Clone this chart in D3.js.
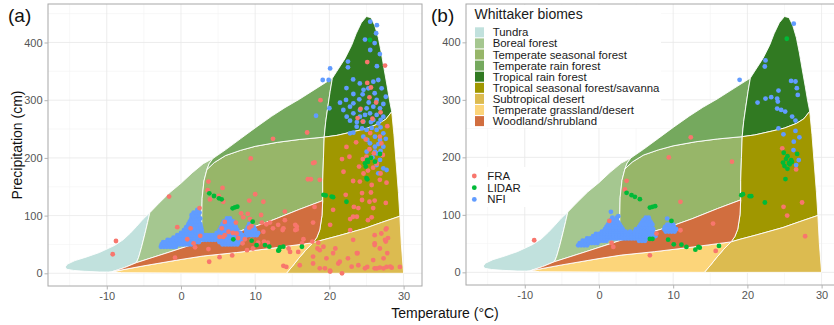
<!DOCTYPE html>
<html>
<head>
  <meta charset="utf-8">
  <style type="text/css">
    body { margin: 0; background: #fff; }
    svg { display: block; font-family: "Liberation Sans", Arial, sans-serif; }
    .grid .major { stroke: #e8e8e8; stroke-width: 0.8px; }
    .grid .minor { stroke: #f3f3f3; stroke-width: 0.6px; }
    .axis text { font-size: 11px; fill: #555; }
    .axis line { stroke: #b3b3b3; }
    .axis path { display: none; }
    .biome { stroke: #fff; stroke-width: 0.9px; stroke-linejoin: round; }
    .legend text { font-size: 11.4px; fill: #1a1a1a; }
  </style>
</head>
<body>
<script src="https://d3js.org/d3.v7.min.js"></script>
<script>
  // biome boundaries, [temperature (C), precipitation (cm)]
  var tundraTop = [[-15.6,11],[-15.3,16],[-14.3,22],[-12.8,28],[-11,36],[-9,48],[-7.8,58],[-6.8,70],[-6,81],[-5.1,94],[-4.2,105]];
  var tundraBottom = [[-15.6,11],[-15.4,7],[-14.5,5],[-13,3.5],[-11,2.3],[-9.8,2.2],[-9.2,3]];
  var tundraBoreal = [[-4.2,105],[-4.5,88],[-4.85,69],[-5.3,46],[-5.7,28],[-6.0,18.5]];
  var woodTopWest = [[-9.2,3],[-7.6,10],[-6.0,18.5]];
  var woodTopMid = [[-6.0,18.5],[-1.5,37],[3.0,56]];
  var woodTopEast = [[3.0,56],[6,66],[9.7,80],[12.5,93],[16,111],[19.1,126]];
  var borealTop = [[-4.2,105],[-3,121],[-1.5,140],[0,156],[1.5,174],[3,190],[4.3,199]];
  var borealTempSeas = [[3.5,180],[3.1,160],[2.85,130],[2.8,100],[2.8,75],[3.0,56]];
  var borealTempRain = [[3.5,180],[3.8,190],[4.3,199]];
  var tempSeasTop = [[3.5,180],[4.5,192],[6,204],[8,213],[10,220],[13,227],[16,232],[19.3,236]];
  var tempRainTop = [[4.3,199],[6,214],[8,233],[10,252],[12.2,272],[14,287],[16,302],[18.2,320],[20.4,338]];
  var tropRainLeft = [[20.4,338],[20.1,315],[19.8,289],[19.5,262],[19.3,236]];
  var tropRainTop = [[20.4,338],[21,350],[22.1,372],[23,395],[23.6,415],[24.3,434],[25,445],[25.6,443],[26.1,430],[26.6,408],[27,382],[27.4,352],[27.8,323],[28.1,300],[28.4,280]];
  var tropRainBottom = [[19.3,236],[21,239],[23.4,246],[25,251],[26.6,259],[27.6,267],[28.4,280]];
  var tropSeasRight = [[28.4,280],[28.7,240],[29.0,190],[29.3,140],[29.5,99]];
  var tropSeasLeft = [[19.3,236],[19.2,200],[19.1,160],[19.1,126]];
  var woodRight = [[19.1,126],[19.0,100],[18.7,75],[18.3,62],[17.8,53]];
  var grassTop = [[-9.2,3],[-5,13],[0,24],[3,30],[7.5,36],[12,43],[17.8,53]];
  var tropSeasBottom = [[29.5,99],[27,88],[24.8,78],[21.2,65],[19,57.5],[17.8,53]];
  var subGrass = [[17.8,53],[16.8,40],[15.8,25],[15,12],[14.2,0]];
  var grassBottom = [[14.2,0],[0,0.5],[-8,1],[-9.2,3]];
  var subRight = [[29.5,99],[29.7,50],[30,0]];
  var subBottom = [[30,0],[14.2,0]];

  var biomeNames = ["Tundra","Boreal forest","Temperate seasonal forest","Temperate rain forest","Tropical rain forest","Tropical seasonal forest/savanna","Subtropical desert","Temperate grassland/desert","Woodland/shrubland"];
  var biomeColors = ["#C1E1DD","#A5C790","#97B669","#75A95E","#317A22","#A09700","#DCBB50","#FCD57A","#D16E3F"];

  var sourceNames = ["FRA","LIDAR","NFI"];
  var sourceColors = ["#F8766D","#00BA38","#619CFF"];

  var xTicks = [-10,0,10,20,30];
  var xMinor = [-15,-5,5,15,25];
  var yTicks = [0,100,200,300,400];
  var yMinor = [50,150,250,350,450];

  // panel (a) points
  var fraA = [[-8.76,56],[-9.2,33],[-1.6,133],[2.5,113],[3.7,159],[3.6,144],[3.9,128],[5.6,148],[5.7,124],[5.1,134],[9.4,199],[12.4,233],[10,137],[11.1,124],[9.2,126],[8.1,104],[8.4,97],[9.0,103],[9.3,94],[7.4,88],[10.8,101],[10.9,88],[9.5,82],[9.2,79],[11.5,85],[12,88],[13.1,84],[12.4,78],[14,107],[15.4,84],[15.6,76],[13.8,78],[11.1,72],[11.2,55],[11.7,53],[10.4,53],[9.5,58],[8.3,52],[8.6,59],[7.5,69],[7.7,61],[7.0,70],[5.9,66],[5.7,63],[5.5,78],[5.9,89],[6.4,72],[5.2,63],[2.6,65],[1.3,78],[0.85,59],[-0.5,80],[1.7,52],[1.9,45],[3.7,42],[5.2,28],[6.9,31],[3.8,20],[-0.8,27],[8.9,40],[9.7,43],[14.5,43],[14.7,37],[13.8,13],[15.8,37],
    [25.1,366],[27.5,360],[18.8,300],[17,244],[25.1,330],[25.6,322],[25.4,305],[23.8,269],[24.5,263],[27.8,255],[26.8,237],[25.5,243],[27,225],[25.4,215],[26,208],[24.5,198],[22.3,219],[21.7,198],[22.7,202],[25,202],[24.6,173],[25.2,178],[24.1,159],[23.2,160],[21.9,176],[26.9,173],[26.8,162],[27.7,157],[25.7,153],[25.6,140],[24.4,139],[22.2,136],[24.4,127],[25.4,124],[26.1,126],[27.6,122],[25.9,113],[23.9,113],[20.5,110],[18,115],[17.5,163],[18,192],[18.7,162],[22.8,94],[23.7,98],[25.2,92],[25.7,97],[27.6,76],[27,69],[26.1,66],[27.9,61],[27.6,55],[26.8,43],[26.1,52],[27.8,35],[23.8,35],[22.5,26],[21.2,17],[20.1,4.5],[21.7,0],[19.4,8.7],[25.1,11],[26.1,8.7],[26.8,10],[27.7,11],[28.4,9.7],[29.5,11],[19.6,26],[17.8,17],[16,14],[14.2,11],[18.4,43],[19.2,46],[17.7,55],[18.5,53],[16.5,59],[16.3,52],[15.4,75],[15.6,81],[13.7,75],[14,92],[17.8,88],[23.3,115],
    [17.8,191],[17.1,163],[20.8,43],[21.4,20],[20.1,3],[23,11.5],[23.9,14],[24.8,8.7],[26.4,8.7],[27.3,8.7],[28.2,11.5],[25.9,23],[27.3,26],[26.1,49],[27.5,58],[27.7,78],[23.2,58],[20.5,35],[17.8,29],[18.7,8.7],[23.7,35],[18.7,40],[23.2,98],[22.8,75],[20.1,84],
    [24.2,285],[26.3,296],[25.8,268],[26.9,279],[24.9,232],[26.4,190],[25.9,183],[24.0,185],[27.2,205],[23.6,227]];
  var lidarA = [[3.82,138.6],[4.45,134],[5.12,129.9],[5.48,128.2],[6.96,112.6],[7.28,114.3],[7.59,115.5],[7.05,58.9],[9.66,89.5],[9.52,56.6],[10.19,49],[11.32,49],[11.9,46.2],[13.34,45],[13.12,39.2],[13.79,46.2],[16.3,46],[13.2,40],[19.2,136],[19.5,135],[20.3,133],[20.5,132],[22.3,124],[25.0,165],[25.2,193],[24.8,190.6],[25.1,196.4],[26.14,193.5],[26.82,206.8],[25.11,162.9],[25.47,404.3],[25.6,200],[24.9,185]];
  var nfiA = [[25.5,436],[26.4,430],[26.3,416],[24.8,405],[26.1,399],[25.5,387],[26.8,380],[22.5,367],[22.5,357],[26.4,359],[20.1,355],[19.1,335],[19.9,335],[20,286],[18.2,273],[23.2,336],[22.3,321],[24.1,329],
    [25.92,332.1],[26.59,335],[25.25,320.6],[27.04,320.6],[24.48,310.2],[23.23,310.7],[22.24,300.4],[21.43,295.7],[24.03,301.5],[23.23,294.6],[26.37,300.4],[26.82,285.9],[27.27,293.4],[25.02,285.9],[25.92,288.8],[24.12,283],[22.78,288.8],[21.88,283],[22.33,271.5],[23.23,277.3],[24.12,271.5],[24.8,274.4],[25.47,277.3],[26.37,274.4],[25.92,265.6],[26.59,259.9],[27.27,271.5],[24.57,262.8],[22.78,264.5],[23.68,254.1],[23.23,243.7],[22.78,242.6],[25.02,248.4],[26.37,248.4],[27.27,242.6],[26.14,236.8],[26.82,231],[24.57,236.8],[25.47,225.2],[26.14,219.5],[27.27,219.5],[25.02,210.8],[26.37,207.9],
    [26.82,196.4],[26.37,187.7],[27.27,181.9],[26.59,173.3],[26.14,210.8],[27.71,179],[25.11,231],
    [25.6,262],[26.9,266],[25.3,296],[26.1,312],[27.6,306],[24.6,318],[23.7,262],[25.7,252],[26.9,253],[26.6,224],[27.6,233],[25.8,201],[26.9,212],[24.4,251],
    [2.2,109.7],[1.44,101]];
  // dense NFI cluster of panel (a): [precipitation, temperatures]
  var nfiBlobA = [
    [46, [-2.7,-2.3,-1.9,-1.5,-1.1,-0.7]],
    [50, [-2.6,-2.2,-1.8,-1.4,-1.0,-0.6,-0.2,0.2,0.6,1.0,1.4,5.6,6.0,6.4,6.8,7.2,7.6]],
    [54, [-2.4,-2.0,-1.6,-1.2,-0.8,-0.4,0,0.4,0.8,1.2,1.6,2.0,2.4,5.2,5.6,6.0,6.4,6.8,7.2,7.6,8.0]],
    [58, [-1.8,-1.4,-1.0,-0.6,-0.2,0.2,0.6,1.0,1.4,1.8,2.2,2.6,3.0,3.4,3.8,4.2,4.6,5.0,5.4,5.8,6.2,6.6,7.0,7.4,7.8,8.2]],
    [62, [-1.0,-0.6,-0.2,0.2,0.6,1.0,1.4,1.8,2.2,2.6,3.0,3.4,3.8,4.2,4.6,5.0,5.4,5.8,6.2,6.6,7.0,7.4,7.8,8.2,8.6]],
    [66, [-0.5,-0.1,0.3,0.7,1.1,1.5,1.9,2.3,2.7,3.1,3.5,3.9,4.3,4.7,5.1,5.5,5.9,6.3,6.7,7.1,7.5,7.9,8.3,9.0,9.4,9.8,10.2]],
    [70, [0,0.4,0.8,1.2,1.6,2.0,2.4,2.8,4.8,5.2,5.6,6.0,6.4,6.8,7.2,7.6,8.0,8.8,9.2,9.6,10.0,10.4]],
    [75, [0.4,0.8,1.2,1.6,2.0,2.4,2.8,5.2,5.6,6.0,6.4,6.8,7.2,7.6,8.8,9.2,9.6,10.0]],
    [80, [0.7,1.1,1.5,1.9,2.3,2.7,5.4,5.8,6.2,6.6,7.0,7.4,9.0,9.4,9.8]],
    [85, [1.0,1.4,1.8,2.2,2.6,5.6,6.0,6.4,6.8,7.2,9.2]],
    [90, [1.2,1.6,2.0,2.4,5.8,6.2,6.6,7.0]],
    [95, [1.4,1.8,2.2,2.6,6.2,6.6]],
    [100, [1.5,1.9,2.3]],
    [105, [1.7,2.1,2.5]]
  ];

  // panel (b) points
  var fraB = [[-8.73,55.8],[3.72,159.2],[3.5,144.1],[1.39,89.5],[1.7,51.2],[1.93,44.2],[6.86,29.6],[7.75,67.4],[9.41,199.9],[10.98,122.6],[10.98,73.2],[15.37,84.9],[15.73,37.2],[17.92,192.4],[24.87,113.9],[25.36,98.8],[27.37,121.5],[27.78,62.8],[26.57,179],[12.37,234.9],[24.7,215.7]];
  var lidarB = [[3.72,138.3],[4.39,134.3],[4.84,131.4],[5.51,127.3],[6.86,112.7],[7.21,113.9],[7.57,115.1],[6.86,58.1],[7.21,58.1],[9.32,56.9],[9.77,89.5],[10.08,48.8],[11.11,48.2],[11.78,44.2],[12.99,39.5],[13.4,44.2],[13.58,43],[16.17,45.9],[19.18,134.3],[19.4,136],[20.3,132.5],[20.52,132.5],[22.36,121.5],[25.13,162.2],[25.31,406.3],
    [24.9,208],[25.4,202],[25.9,195],[26.7,206],[25.7,188],[24.8,191],[25.2,197],[25.6,190],[25,185],[26,192],[25.4,180]];
  var nfiB = [[26.25,432.4],[22.44,368.5],[22.35,358],[18.95,334.8],[25.89,333],[26.48,331.9],[26.66,320.3],[26.79,308.6],[24.19,316.2],[22.44,302.2],[23.21,304.6],[24.01,302.2],[24.1,297],[21.37,295.3],[24.01,284.8],[24.55,282.5],[25.09,279.6],[26.03,270.9],[26.48,263.9],[24.19,250.5],[24.86,240.1],[26.48,245.9],[27.01,234.8],[26.25,227.3],[26.92,195.3],[26.57,186.6],[26.21,212.7],
    [1.61,105.2],[2.6,97.6],[9.19,93.6]];
  var nfiBlobB = [
    [47, [-2.8,-2.4,-2.0,-1.6]],
    [51, [-2.6,-2.2,-1.8,-1.4,-1.0,-0.6,-0.2]],
    [55, [-2.2,-1.8,-1.4,-1.0,-0.6,-0.2,0.2,0.6,1.0,5.4,5.8,6.2]],
    [59, [-1.6,-1.2,-0.8,-0.4,0,0.4,0.8,1.2,1.6,2.0,2.4,2.8,3.2,3.6,4.0,4.4,4.8,5.2,5.6,6.0,6.4,6.8,7.2]],
    [63, [-0.8,-0.4,0,0.4,0.8,1.2,1.6,2.0,2.4,2.8,3.2,3.6,4.0,4.4,4.8,5.2,5.6,6.0,6.4,6.8,7.2,7.6]],
    [67, [-0.4,0,0.4,0.8,1.2,1.6,2.0,2.4,2.8,3.2,3.6,4.0,4.4,4.8,5.2,5.6,6.0,6.4,6.8,7.2,7.6]],
    [71, [0.4,0.8,1.2,1.6,2.0,2.4,2.8,3.2,3.6,4.2,4.8,5.2,5.6,6.0,6.4,6.8,7.2,9.0,9.4,9.8,10.2]],
    [75, [0.8,1.2,1.6,2.0,2.4,2.8,3.2,5.0,5.4,5.8,6.2,6.6,7.0,7.3,8.8,9.2,9.6,10.0,10.4]],
    [79, [1.0,1.4,1.8,2.2,2.6,3.0,5.4,5.8,6.2,6.6,7.0,8.9,9.3,9.7,10.1]],
    [83, [1.2,1.6,2.0,2.4,2.8,5.6,6.0,6.4,6.8,7.2,9.2,9.6,10.0]],
    [87, [1.4,1.8,2.2,2.6,5.8,6.2,6.6,7.0]],
    [91, [1.6,2.0,2.4,6.0,6.4,6.8]],
    [95, [1.8,2.4,6.3,6.7]]
  ];

  function rev(a) { return a.slice().reverse(); }

  function expandRows(rows) {
    var out = [];
    rows.forEach(function(r) {
      r[1].forEach(function(t) { out.push([t, r[0]]); });
    });
    return out;
  }

  var biomes = [
    tundraTop.concat(tundraBoreal, rev(woodTopWest), rev(tundraBottom)),
    rev(tundraBoreal).concat(borealTop, rev(borealTempRain), borealTempSeas, rev(woodTopMid)),
    rev(borealTempSeas).concat(tempSeasTop, tropSeasLeft, rev(woodTopEast)),
    borealTempRain.concat(tempRainTop, tropRainLeft, rev(tempSeasTop)),
    rev(tropRainLeft).concat(tropRainTop, rev(tropRainBottom)),
    tropRainBottom.concat(tropSeasRight, tropSeasBottom, rev(woodRight), rev(tropSeasLeft)),
    rev(tropSeasBottom).concat(subRight, subBottom, rev(subGrass)),
    grassTop.concat(subGrass, grassBottom),
    woodTopWest.concat(woodTopMid, woodTopEast, woodRight, rev(grassTop))
  ];

  var xDomain = [-17.92, 32.48];
  var yDomain = [-22, 466.7];

  var svg = d3.select("body").append("svg")
    .attr("width", 834)
    .attr("height", 325);

  var panels = [
    {id: "a", left: 48, right: 422, top: 4, bottom: 286, labelX: 8, fra: fraA, lidar: lidarA, nfi: expandRows(nfiBlobA).concat(nfiA)},
    {id: "b", left: 466, right: 840, top: 4, bottom: 285, labelX: 431, fra: fraB, lidar: lidarB, nfi: expandRows(nfiBlobB).concat(nfiB)}
  ];

  panels.forEach(function(p) {
    var x = d3.scaleLinear().domain(xDomain).range([p.left, p.right]);
    var y = d3.scaleLinear().domain(yDomain).range([p.bottom, p.top]);

    svg.append("clipPath").attr("id", "clip-" + p.id)
      .append("rect")
      .attr("x", p.left).attr("y", p.top)
      .attr("width", p.right - p.left).attr("height", p.bottom - p.top);

    var g = svg.append("g").attr("clip-path", "url(#clip-" + p.id + ")");

    // grid
    var grid = g.append("g").attr("class", "grid");
    grid.selectAll(".vminor").data(xMinor).enter().append("line")
      .attr("class", "minor")
      .attr("x1", function(d) { return x(d); }).attr("x2", function(d) { return x(d); })
      .attr("y1", p.top).attr("y2", p.bottom);
    grid.selectAll(".hminor").data(yMinor).enter().append("line")
      .attr("class", "minor")
      .attr("y1", function(d) { return y(d); }).attr("y2", function(d) { return y(d); })
      .attr("x1", p.left).attr("x2", p.right);
    grid.selectAll(".vmajor").data(xTicks).enter().append("line")
      .attr("class", "major")
      .attr("x1", function(d) { return x(d); }).attr("x2", function(d) { return x(d); })
      .attr("y1", p.top).attr("y2", p.bottom);
    grid.selectAll(".hmajor").data(yTicks).enter().append("line")
      .attr("class", "major")
      .attr("y1", function(d) { return y(d); }).attr("y2", function(d) { return y(d); })
      .attr("x1", p.left).attr("x2", p.right);

    // biome polygons
    var line = d3.line()
      .x(function(d) { return x(d[0]); })
      .y(function(d) { return y(d[1]); });

    g.selectAll(".biome").data(biomes).enter().append("path")
      .attr("class", "biome")
      .attr("d", function(d) { return line(d) + "Z"; })
      .attr("fill", function(d, i) { return biomeColors[i]; });

    // points: NFI, FRA, LIDAR
    [[p.nfi, sourceColors[2]], [p.fra, sourceColors[0]], [p.lidar, sourceColors[1]]].forEach(function(s) {
      g.append("g").selectAll("circle").data(s[0]).enter().append("circle")
        .attr("cx", function(d) { return x(d[0]); })
        .attr("cy", function(d) { return y(d[1]); })
        .attr("r", 2.4)
        .attr("fill", s[1]);
    });

    // legends in panel b
    if (p.id == "b") {
      var leg = svg.append("g").attr("class", "legend");
      leg.append("rect").attr("x", 467).attr("y", 5).attr("width", 194).attr("height", 123).attr("fill", "#fff");
      leg.append("text").attr("x", 474.5).attr("y", 18.5).style("font-size", "14px").text("Whittaker biomes");
      var rows = leg.selectAll(".row").data(biomeNames).enter().append("g")
        .attr("transform", function(d, i) { return "translate(475," + (32.3 + i * 11.1) + ")"; });
      rows.append("rect").attr("x", 0).attr("y", -5).attr("width", 9).attr("height", 10)
        .attr("fill", function(d, i) { return biomeColors[i]; });
      rows.append("text").attr("x", 17.7).attr("y", 4).text(function(d) { return d; });

      var leg2 = svg.append("g").attr("class", "legend");
      leg2.append("rect").attr("x", 467).attr("y", 167).attr("width", 62).attr("height", 40).attr("fill", "#fff");
      var rows2 = leg2.selectAll(".row").data(sourceNames).enter().append("g")
        .attr("transform", function(d, i) { return "translate(474.3," + (176 + i * 11.7) + ")"; });
      rows2.append("circle").attr("r", 2.4).attr("fill", function(d, i) { return sourceColors[i]; });
      rows2.append("text").attr("x", 13).attr("y", 4).text(function(d) { return d; });
    }

    // border
    svg.append("rect")
      .attr("x", p.left).attr("y", p.top)
      .attr("width", p.right - p.left).attr("height", p.bottom - p.top)
      .attr("fill", "none").attr("stroke", "#a8a8a8").attr("stroke-width", 1);

    // axes
    svg.append("g").attr("class", "axis")
      .attr("transform", "translate(0," + p.bottom + ")")
      .call(d3.axisBottom(x).tickValues(xTicks).tickSize(3.5).tickPadding(2.5).tickFormat(d3.format("d")));
    svg.append("g").attr("class", "axis")
      .attr("transform", "translate(" + p.left + ",0)")
      .call(d3.axisLeft(y).tickValues(yTicks).tickSize(3.5).tickPadding(2).tickFormat(d3.format("d")));

    svg.append("text")
      .attr("x", p.labelX).attr("y", 22)
      .style("font-size", "19px").attr("fill", "#111")
      .text("(" + p.id + ")");
  });

  svg.selectAll(".axis text").text(function() { return this.textContent.replace("\u2212", "-"); });

  svg.append("text")
    .attr("x", 445).attr("y", 317.5)
    .attr("text-anchor", "middle")
    .style("font-size", "14px").attr("fill", "#111")
    .text("Temperature (\u00B0C)");

  svg.append("text")
    .attr("transform", "translate(22,145) rotate(-90)")
    .attr("text-anchor", "middle")
    .style("font-size", "14px").attr("fill", "#111")
    .text("Precipitation (cm)");
</script>
</body>
</html>
